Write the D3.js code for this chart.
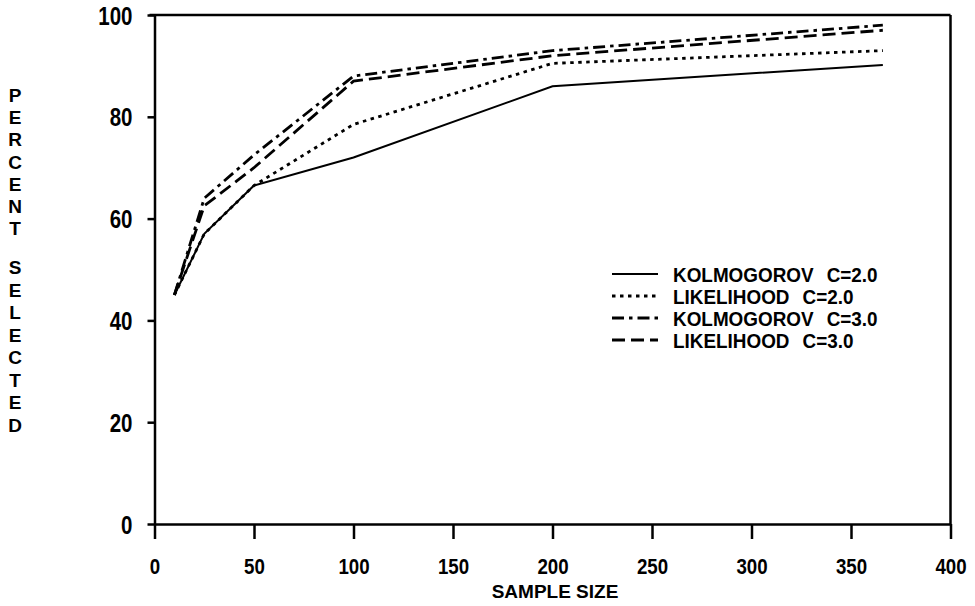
<!DOCTYPE html>
<html>
<head>
<meta charset="utf-8">
<script src="https://cdn.jsdelivr.net/npm/d3@7"></script>
<style>
  body { margin: 0; background: #fff; }
  svg { display: block; }
  text { font-family: "Liberation Sans", Arial, sans-serif; font-weight: bold; fill: #000; }
</style>
</head>
<body>
<svg id="chart" width="975" height="606"></svg>
<script>
// Sample sizes and percent selected
const sampleSizes = [10, 25, 50, 100, 200, 366];
const kolmogorov2 = [45, 57, 66.5, 72, 86, 90.2];
const likelihood2 = [45, 57, 66.5, 78.5, 90.5, 93];
const kolmogorov3 = [45, 64, 72.5, 88, 93, 98];
const likelihood3 = [45, 62.5, 70, 87, 92, 97];

const seriesNames = ["KOLMOGOROV C=2.0", "LIKELIHOOD C=2.0", "KOLMOGOROV C=3.0", "LIKELIHOOD C=3.0"];
const seriesValues = [kolmogorov2, likelihood2, kolmogorov3, likelihood3];
const seriesDash = [null, "3.5,4.5", "12,5,3.5,5", "13,6"];

const xTicks = [0, 50, 100, 150, 200, 250, 300, 350, 400];
const yTicks = [0, 20, 40, 60, 80, 100];
const yLabel = "PERCENT SELECTED";

const svg = d3.select("#chart");

const x = d3.scaleLinear().domain([0, 400]).range([154.5, 950.5]);
const y = d3.scaleLinear().domain([0, 100]).range([524, 15]);

// squeeze text sideways, the plotter font is narrow
function narrow(sel, k) {
    sel.each(function() {
        const t = d3.select(this);
        const tx = +t.attr("x") || 0;
        t.attr("x", 0).attr("transform", `translate(${tx},0) scale(${k},1)`);
    });
}

// frame: top and right sides
svg.append("line")
    .attr("x1", x(0) - 5).attr("x2", x(400))
    .attr("y1", y(100)).attr("y2", y(100))
    .attr("stroke", "#000").attr("stroke-width", 2.5);
svg.append("line")
    .attr("x1", x(400)).attr("x2", x(400))
    .attr("y1", y(100)).attr("y2", y(0))
    .attr("stroke", "#000").attr("stroke-width", 2.5);

// axes
const xAxis = svg.append("g")
    .attr("transform", `translate(0,${y(0)})`)
    .call(d3.axisBottom(x).tickValues(xTicks).tickSize(15).tickSizeOuter(0).tickPadding(19));
xAxis.selectAll("text")
    .style("font-family", '"Liberation Sans", Arial, sans-serif')
    .style("font-weight", "bold")
    .style("font-size", "22px")
    .call(narrow, 0.85);

const yAxis = svg.append("g")
    .attr("transform", `translate(${x(0)},0)`)
    .call(d3.axisLeft(y).tickValues(yTicks).tickSize(7).tickSizeOuter(0).tickPadding(15));
yAxis.selectAll("text")
    .style("font-family", '"Liberation Sans", Arial, sans-serif')
    .style("font-weight", "bold")
    .style("font-size", "25px")
    .attr("dy", "0.36em")
    .call(narrow, 0.82);

svg.selectAll(".domain, .tick line").attr("stroke", "#000").attr("stroke-width", 2.5);

// lines
const line = d3.line()
    .x((d, i) => x(sampleSizes[i]))
    .y(d => y(d));

seriesValues.forEach((vals, k) => {
    svg.append("path")
        .datum(vals)
        .attr("d", line)
        .attr("fill", "none")
        .attr("stroke", "#000")
        .attr("stroke-width", k == 0 ? 2 : 2.8)
        .attr("stroke-dasharray", seriesDash[k]);
});

// legend
const legend = svg.append("g").attr("transform", "translate(612,274)");
seriesNames.forEach((name, k) => {
    const row = legend.append("g").attr("transform", `translate(0,${k * 22})`);
    row.append("line")
        .attr("x1", 0).attr("x2", 46)
        .attr("stroke", "#000")
        .attr("stroke-width", k == 0 ? 2 : 2.8)
        .attr("stroke-dasharray", seriesDash[k]);
    row.append("text")
        .attr("x", 61)
        .attr("y", 7.5)
        .style("font-size", "19.5px")
        .style("word-spacing", "8px")
        .text(name)
        .call(narrow, 0.97);
});

// axis titles
svg.append("text")
    .attr("x", 555)
    .attr("y", 598)
    .attr("text-anchor", "middle")
    .style("font-size", "19px")
    .text("SAMPLE SIZE");

// vertical stacked letters
const letters = yLabel.split("");
const gap = letters.indexOf(" ");
svg.append("g").selectAll("text")
    .data(letters.filter(c => c != " "))
    .join("text")
    .attr("x", 15)
    .attr("y", (c, i) => i < gap ? 102 + i * 22.2 : 274 + (i - gap) * 22.5)
    .attr("text-anchor", "middle")
    .style("font-size", "19px")
    .text(c => c);
</script>
</body>
</html>
